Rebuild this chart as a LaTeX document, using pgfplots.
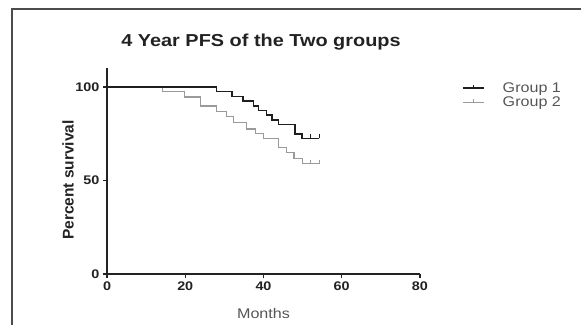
\documentclass[border=0pt]{standalone}
\usepackage{pgfplots}
\pgfplotsset{compat=1.18}
\usepackage{fontspec}
\setmainfont{Liberation Sans}[FakeStretch=1.15]
\newfontfamily\ylabfont{Liberation Sans}
\definecolor{axcol}{HTML}{222222}
\definecolor{gone}{HTML}{1E1E1E}
\definecolor{gtwo}{HTML}{9A9A9A}
\definecolor{txtgray}{HTML}{555555}
\pgfdeclareplotmark{cens}{\pgfpathmoveto{\pgfpointorigin}\pgfpathlineto{\pgfqpoint{0pt}{\pgfplotmarksize}}\pgfusepathqstroke}
\begin{document}
\begin{tikzpicture}[x=1pt,y=1pt]
\useasboundingbox (0,0) rectangle (581,325);
\draw[line width=1.3pt, color=black!70] (12,0) -- (12,316) -- (581,316);
\node[font=\fontsize{17.3}{20}\selectfont\bfseries, text=axcol] at (261,283) {4 Year PFS of the Two groups};
\node[rotate=90, font=\ylabfont\fontsize{15.5}{18}\selectfont\bfseries, text=axcol] at (68,145) {Percent survival};
\node[font=\fontsize{14}{16}\selectfont, text=txtgray] at (263.5,12) {Months};
\begin{axis}[
  at={(107pt,51pt)}, anchor=south west,
  scale only axis, width=313pt, height=205.7pt,
  xmin=0, xmax=80, ymin=0, ymax=110,
  axis lines*=left,
  axis line style={line width=1.5pt, axcol},
  xtick={0,20,40,60,80}, ytick={0,50,100},
  tick align=outside, major tick length=4pt,
  tick style={line width=1.3pt, axcol},
  ticklabel style={font=\fontsize{12.5}{14}\selectfont\bfseries, text=axcol},
  /pgf/number format/assume math mode=true,
  clip=false,
  legend style={at={(1.134,0.870)}, anchor=west, draw=none, fill=none,
    inner sep=0pt, font=\fontsize{14}{16}\selectfont, text=txtgray,
    nodes={inner sep=1pt}, row sep=1pt,
    /tikz/every odd column/.append style={column sep=17pt}},
  legend cell align=left,
  legend image code/.code={
    \draw[#1] (0pt,0pt) -- (21pt,0pt);
    \draw[#1] (10.5pt,0pt) -- (10.5pt,3pt);
  },
]
\addlegendimage{gone, line width=1.6pt}
\addlegendentry{Group 1}
\addlegendimage{gtwo, line width=1.2pt}
\addlegendentry{Group 2}
\addplot[const plot, gtwo, line width=1.2pt, forget plot] coordinates {
 (0,100)(14.2,97.4)(19.9,94.7)(23.8,89.8)(28,86.8)(30.6,84.2)(32.3,81.2)(35.7,77.5)(37.9,75.2)(40,72.6)(43.8,67.5)(45.8,64.8)(47.8,61.8)(49.9,59)(54.3,59)};
\addplot[only marks, mark=cens, mark size=4pt, gtwo, line width=1.1pt, forget plot] coordinates {(52.1,59)(54.3,59)};
\addplot[const plot, gone, line width=1.6pt, forget plot] coordinates {
 (0,100)(28,97.5)(31.9,95)(34.7,92.5)(37.4,90)(38.7,87.5)(40.8,85)(42.1,82.5)(43.8,80)(48.1,75)(49.9,72.5)(54.3,72.5)};
\addplot[only marks, mark=cens, mark size=4pt, gone, line width=1.3pt, forget plot] coordinates {(52.1,72.5)(54.3,72.5)};
\end{axis}
\end{tikzpicture}
\end{document}
